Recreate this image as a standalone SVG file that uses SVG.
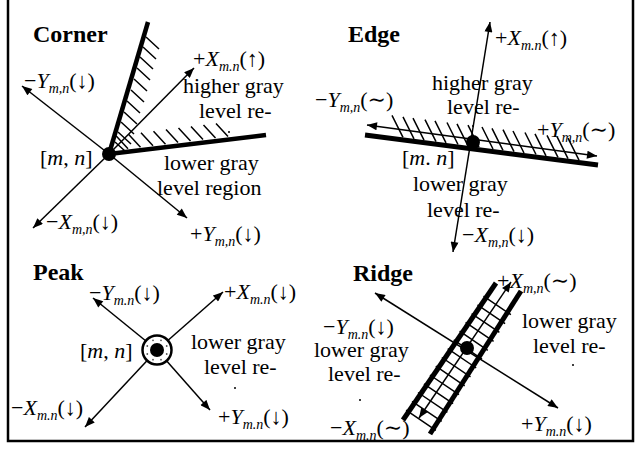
<svg xmlns="http://www.w3.org/2000/svg" width="641" height="452" viewBox="0 0 641 452">
<style>
text{font-family:"Liberation Serif","Times New Roman","DejaVu Serif",serif;font-size:22px;fill:#000}
.b{font-weight:bold;font-size:24px}
.i{font-style:italic}
.s{font-style:italic;font-size:14px}
.ar{stroke:#000;stroke-width:1.5;fill:none;marker-end:url(#ah)}
.ar2{stroke:#000;stroke-width:1.5;fill:none;marker-start:url(#ah);marker-end:url(#ah)}
.thick{stroke:#000;stroke-width:4.5;fill:none}
.h{stroke:#000;stroke-width:1.5;fill:none}
</style>
<defs>
<marker id="ah" viewBox="0 0 10 8" refX="10" refY="4" markerWidth="11" markerHeight="8" orient="auto-start-reverse" markerUnits="userSpaceOnUse"><path d="M0,0 L10,4 L0,8 z" fill="#000"/></marker>
</defs>
<rect width="641" height="452" fill="#fff"/>
<path d="M8,0 V441 H633 V0" fill="none" stroke="#000" stroke-width="2.5"/>

<g id="connectors">
<line class="ar" x1="109" y1="154" x2="194" y2="68"/>
<line class="ar" x1="109" y1="154" x2="22" y2="86"/>
<line class="ar" x1="109" y1="154" x2="33" y2="228"/>
<line class="ar" x1="109" y1="154" x2="187" y2="218"/>
<line class="ar2" x1="453" y1="252" x2="490" y2="22"/>
<line class="ar2" x1="367" y1="125" x2="597" y2="156"/>
<line class="ar" x1="157" y1="350" x2="93" y2="298"/>
<line class="ar" x1="157" y1="350" x2="223" y2="292"/>
<line class="ar" x1="157" y1="350" x2="85" y2="427"/>
<line class="ar" x1="157" y1="350" x2="210" y2="410"/>
<line class="ar2" x1="419" y1="418" x2="511" y2="282"/>
<line class="ar2" x1="375" y1="293" x2="558" y2="408"/>
</g>

<g id="corner">
<line class="thick" x1="109" y1="154" x2="148" y2="22"/>
<line class="thick" x1="109" y1="154" x2="266" y2="135"/>
<path class="h" d="M146,37 l13,12 M143,47 l13,12 M140,57 l13,12 M137,68 l13,12 M134,79 l13,12 M131,90 l13,12 M127,101 l13,12 M124,112 l13,12 M121,122 l13,12 M118,132 l13,12 M115,142 l10,9"/>
<path class="h" d="M128,148.7 l-12,-13 M140.5,147.2 l-12,-13 M153,145.7 l-12,-13 M165.5,144.2 l-12,-13 M178,142.6 l-12,-13 M190.5,141.1 l-12,-13 M203,139.6 l-12,-13 M215.5,138.1 l-12,-13 M228,136.6 l-12,-13"/>
<circle cx="229" cy="132" r="1"/>
<circle cx="109" cy="154" r="7"/>
<text class="b" x="33" y="42">Corner</text>
<text x="24" y="88">−<tspan class="i">Y</tspan><tspan class="s" dy="5">m,n</tspan><tspan dy="-5">(↓)</tspan></text>
<text x="193" y="66">+<tspan class="i">X</tspan><tspan class="s" dy="5">m.n</tspan><tspan dy="-5">(↑)</tspan></text>
<text x="183" y="93">higher gray</text>
<text x="199" y="118">level re-</text>
<text x="40" y="165">[<tspan class="i">m</tspan>, <tspan class="i">n</tspan>]</text>
<text x="164" y="170">lower gray</text>
<text x="157" y="195">level region</text>
<text x="46" y="229">−<tspan class="i">X</tspan><tspan class="s" dy="5">m,n</tspan><tspan dy="-5">(↓)</tspan></text>
<text x="190" y="241">+<tspan class="i">Y</tspan><tspan class="s" dy="5">m,n</tspan><tspan dy="-5">(↓)</tspan></text>
</g>

<g id="edge">
<line x1="365" y1="135" x2="598" y2="165" stroke="#000" stroke-width="5"/>
<path class="h" d="M403,137.4 l-11,-22 M414,138.8 l-11,-22 M424,140.1 l-11,-22 M436,141.6 l-11,-22 M446,142.9 l-11,-22 M458,144.5 l-11,-22 M468,145.8 l-11,-22 M479,147.2 l-11,-22 M493,149 l-11,-22 M503,150.3 l-11,-22 M514,151.7 l-11,-22 M524,153 l-11,-22 M536,154.5 l-11,-22 M546,155.8 l-11,-22 M558,157.4 l-11,-22 M568,158.6 l-11,-22 M579,160.1 l-11,-22"/>
<circle cx="473" cy="142" r="7"/>
<circle cx="473" cy="126" r="1"/>
<text class="b" x="348" y="42">Edge</text>
<text x="495" y="45">+<tspan class="i">X</tspan><tspan class="s" dy="5">m.n</tspan><tspan dy="-5">(↑)</tspan></text>
<text x="432" y="90">higher gray</text>
<text x="447" y="114">level re-</text>
<text x="315" y="107">−<tspan class="i">Y</tspan><tspan class="s" dy="5">m,n</tspan><tspan dy="-5">(∼)</tspan></text>
<text x="537" y="137">+<tspan class="i">Y</tspan><tspan class="s" dy="5">m,n</tspan><tspan dy="-5">(∼)</tspan></text>
<text x="402" y="165">[<tspan class="i">m</tspan>. <tspan class="i">n</tspan>]</text>
<text x="413" y="191">lower gray</text>
<text x="427" y="217">level re-</text>
<text x="462" y="242">−<tspan class="i">X</tspan><tspan class="s" dy="5">m,n</tspan><tspan dy="-5">(↓)</tspan></text>
</g>

<g id="peak">
<circle cx="157" cy="350" r="14.5" fill="#fff" stroke="#000" stroke-width="2.5"/>
<g fill="#555">
<circle cx="166.7" cy="354" r="0.9"/><circle cx="161" cy="359.7" r="0.9"/><circle cx="153" cy="359.7" r="0.9"/><circle cx="147.3" cy="354" r="0.9"/>
<circle cx="147.3" cy="346" r="0.9"/><circle cx="153" cy="340.3" r="0.9"/><circle cx="161" cy="340.3" r="0.9"/><circle cx="166.7" cy="346" r="0.9"/>
</g>
<circle cx="157" cy="350" r="7"/>
<text class="b" x="33" y="280">Peak</text>
<text x="89" y="300">−<tspan class="i">Y</tspan><tspan class="s" dy="5">m.n</tspan><tspan dy="-5">(↓)</tspan></text>
<text x="224" y="299">+<tspan class="i">X</tspan><tspan class="s" dy="5">m.n</tspan><tspan dy="-5">(↓)</tspan></text>
<text x="80" y="358">[<tspan class="i">m</tspan>, <tspan class="i">n</tspan>]</text>
<text x="191" y="349">lower gray</text>
<text x="204" y="374">level re-</text>
<circle cx="235" cy="388" r="1"/>
<text x="11" y="415">−<tspan class="i">X</tspan><tspan class="s" dy="5">m.n</tspan><tspan dy="-5">(↓)</tspan></text>
<text x="218" y="424">+<tspan class="i">Y</tspan><tspan class="s" dy="5">m.n</tspan><tspan dy="-5">(↓)</tspan></text>
</g>

<g id="ridge">
<line x1="403" y1="420" x2="496" y2="283" stroke="#000" stroke-width="5"/>
<line x1="430" y1="434" x2="521" y2="291" stroke="#000" stroke-width="5"/>
<path class="h" d="M406.1,410.1 L435.9,430.3 M412,401.3 L441.7,421.4 M418,392.5 L447.4,412.4 M423.9,383.8 L453.1,403.6 M429.9,375 L459,394.7 M435.8,366.2 L464.7,385.8 M441.8,357.5 L470.5,376.9 M447.7,348.7 L476.2,368 M453.7,339.9 L482,359.1 M459.6,331.2 L487.8,350.3 M465.6,322.4 L493.6,341.4 M471.6,313.6 L499.4,332.4 M477.5,304.9 L505.1,323.6 M483.5,296.1 L510.9,314.7"/>
<circle cx="467" cy="348" r="7"/>
<text class="b" x="353" y="281">Ridge</text>
<text x="497" y="288">+<tspan class="i">X</tspan><tspan class="s" dy="5">m,n</tspan><tspan dy="-5">(∼)</tspan></text>
<text x="323" y="334">−<tspan class="i">Y</tspan><tspan class="s" dy="5">m.n</tspan><tspan dy="-5">(↓)</tspan></text>
<text x="314" y="357">lower gray</text>
<text x="328" y="381">level re-</text>
<circle cx="360" cy="400" r="1"/>
<text x="330" y="435">−<tspan class="i">X</tspan><tspan class="s" dy="5">m.n</tspan><tspan dy="-5">(∼)</tspan></text>
<text x="522" y="328">lower gray</text>
<text x="533" y="353">level re-</text>
<circle cx="573" cy="365" r="1"/>
<text x="521" y="431">+<tspan class="i">Y</tspan><tspan class="s" dy="5">m.n</tspan><tspan dy="-5">(↓)</tspan></text>
</g>
</svg>
